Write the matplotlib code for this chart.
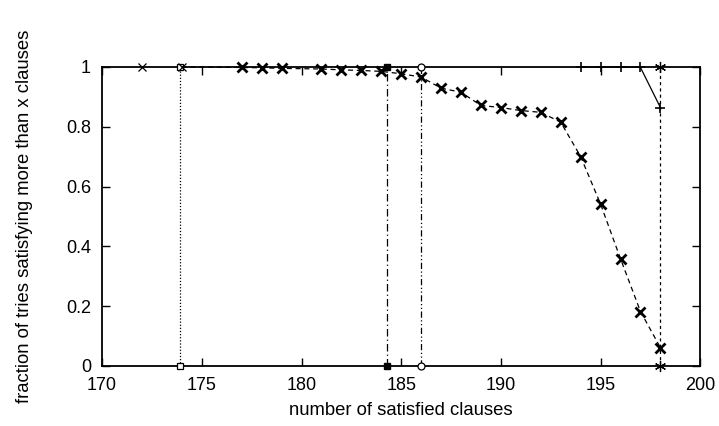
import numpy as np
import matplotlib.pyplot as plt

plt.rcParams['font.family'] = ['Liberation Sans', 'DejaVu Sans']

# bold-x dashed curve (first point only starts the line, no marker)
x_main = [174, 177, 178, 179, 181, 182, 183, 184, 185, 186, 187, 188, 189, 190,
          191, 192, 193, 194, 195, 196, 197, 198]
y_main = [1.0, 0.998, 0.997, 0.995, 0.993, 0.990, 0.988, 0.985, 0.977, 0.966,
          0.929, 0.915, 0.871, 0.864, 0.854, 0.848, 0.815, 0.700, 0.541, 0.358,
          0.182, 0.061]

# solid "+" curve
x_plus = [194, 195, 196, 197, 198]
y_plus = [1.0, 1.0, 1.0, 0.998, 0.864]

# thin x points at the top
x_thin = [172, 174]
y_thin = [1.0, 1.0]

# vertical markers (x position of each)
x_sq_open = 173.93
x_sq_fill = 184.27
x_circle = 186.0
x_star = 198.0

fig = plt.figure(figsize=(7.19, 4.26), dpi=100)
ax = fig.add_axes([0.142, 0.141, 0.832, 0.702])

kw = dict(clip_on=False, zorder=5, color="black", lw=0.9)
ax.plot([x_sq_open, x_sq_open], [0, 1], linestyle=(0, (1, 1.5)),
        marker="s", mfc="white", mec="black", ms=5, mew=0.9, **kw)
ax.plot([x_sq_fill, x_sq_fill], [0, 1], linestyle=(0, (6, 2.5, 1, 2.5)),
        marker="s", mfc="black", mec="black", ms=5, **kw)
ax.plot([x_circle, x_circle], [0, 1], linestyle=(0, (5, 2, 1, 2, 1, 2)),
        marker="o", mfc="white", mec="black", ms=5, mew=0.9, **kw)
ax.plot([x_star, x_star], [0, 1], linestyle=(0, (2.5, 2.5)),
        marker=(6, 2, 0), mec="black", ms=8, mew=0.9, **kw)

ax.plot(x_main, y_main, linestyle=(0, (4, 3)), marker="x", ms=7, mew=2,
        markevery=list(range(1, len(x_main))), **kw)
ax.plot(x_plus, y_plus, linestyle="-", marker="+", ms=7, mew=1.2, **kw)
ax.plot(x_thin, y_thin, linestyle="none", marker="x", ms=6, mew=0.9,
        clip_on=False, zorder=6, color="black")

ax.set_xlim(170, 200)
ax.set_ylim(0, 1)
ax.set_xticks(np.arange(170, 201, 5))
ax.set_yticks([0, 0.2, 0.4, 0.6, 0.8, 1])
ax.set_yticklabels(["0", "0.2", "0.4", "0.6", "0.8", "1"])
ax.tick_params(direction="in", length=6, width=1, top=True, right=True,
               labelsize=13, pad=8)
for s in ax.spines.values():
    s.set_linewidth(1.3)

ax.set_xlabel("number of satisfied clauses", fontsize=13.3, labelpad=6)
ax.set_ylabel("fraction of tries satisfying more than x clauses", fontsize=13.3,
              labelpad=24)

fig.savefig("out.png", dpi=100)
